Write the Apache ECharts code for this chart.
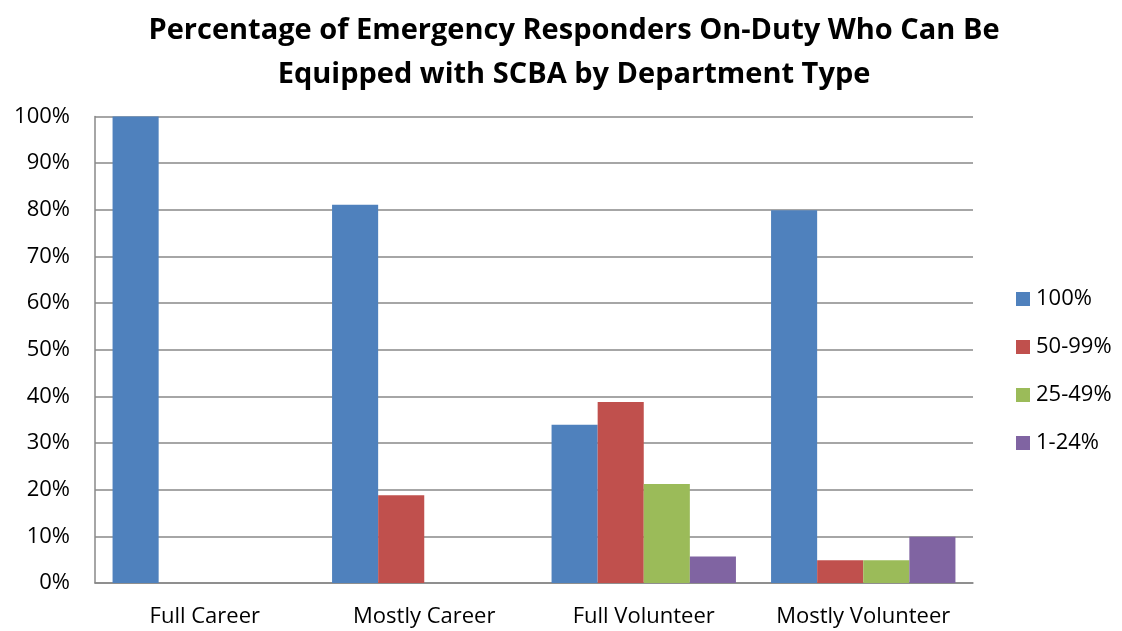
<!DOCTYPE html>
<html><head><meta charset="utf-8">
<script src="https://cdn.jsdelivr.net/npm/echarts@6/dist/echarts.min.js"></script>
<style>html,body{margin:0;padding:0;background:#fff}#c{width:1122px;height:631px}</style>
</head><body><div id="c"></div>
<script>
const categories = ['Full Career', 'Mostly Career', 'Full Volunteer', 'Mostly Volunteer'];
const seriesNames = ['100%', '50-99%', '25-49%', '1-24%'];
const s100 = [100, 81.1, 33.9, 79.9];
const s50_99 = [0, 18.8, 38.8, 4.9];
const s25_49 = [0, 0, 21.2, 4.9];
const s1_24 = [0, 0, 5.7, 9.9];
const colors = ['#4F81BD', '#C0504D', '#9BBB59', '#8064A2'];
const values = [s100, s50_99, s25_49, s1_24];
const font = '"Open Sans", "Liberation Sans", sans-serif';

const chart = echarts.init(document.getElementById('c'), null, {renderer: 'canvas'});
chart.setOption({
  animation: false,
  backgroundColor: '#fff',
  title: {
    text: 'Percentage of Emergency Responders On-Duty Who Can Be\nEquipped with SCBA by Department Type',
    left: 569, top: 4, textAlign: 'center',
    textStyle: {fontFamily: font, fontWeight: 'bold', fontSize: 29, lineHeight: 44, color: '#000'}
  },
  legend: {
    orient: 'vertical', left: 1016, top: 288, itemGap: 26, padding: 0,
    itemWidth: 14, itemHeight: 14, icon: 'rect',
    textStyle: {fontFamily: font, fontSize: 22, color: '#000', padding: [0, 0, 0, 1]},
    data: seriesNames
  },
  grid: {left: 95, right: 149, top: 116.5, bottom: 48, containLabel: false},
  xAxis: {
    type: 'category', data: categories,
    axisLine: {lineStyle: {color: '#888', width: 1.5}},
    axisTick: {show: false},
    axisLabel: {fontFamily: font, fontSize: 22, color: '#000', margin: 23, interval: 0}
  },
  yAxis: {
    type: 'value', min: 0, max: 100, interval: 10,
    axisLine: {show: true, lineStyle: {color: '#888', width: 1.5}},
    axisTick: {show: false},
    splitLine: {lineStyle: {color: '#888', width: 1.5}},
    axisLabel: {fontFamily: font, fontSize: 22, color: '#000', margin: 25, formatter: '{value}%'}
  },
  series: values.map((v, i) => ({
    name: seriesNames[i], type: 'bar', data: v,
    barGap: '0%', barCategoryGap: '16%',
    itemStyle: {color: colors[i]}
  }))
});
</script></body></html>
